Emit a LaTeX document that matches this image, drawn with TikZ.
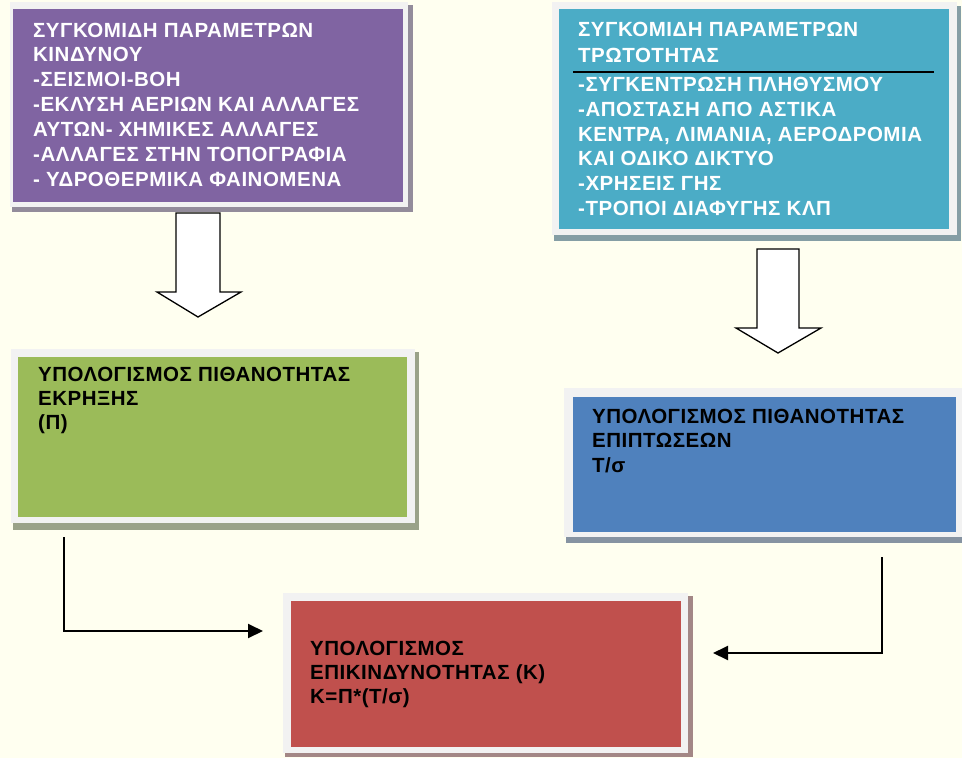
\documentclass[tikz,border=0pt]{standalone}
\usepackage{fontspec}
\setmainfont{Liberation Sans}
\usetikzlibrary{arrows.meta}

\definecolor{bgc}{RGB}{255,255,240}
\definecolor{framec}{RGB}{242,242,242}
\definecolor{purplec}{RGB}{128,100,162}
\definecolor{tealc}{RGB}{75,172,198}
\definecolor{greenc}{RGB}{155,187,89}
\definecolor{bluec}{RGB}{79,129,189}
\definecolor{redc}{RGB}{192,80,77}

\tikzset{
  panel/.style={fill=#1, draw=none, anchor=north west, inner sep=0pt},
  framebox/.style={fill=framec},
  shade/.style={fill=#1!30!gray!85},
  % text blocks are placed by the baseline of their last line
  boxtext/.style={anchor=base west, align=left, inner sep=0pt,
    font=\fontsize{20.5bp}{#1}\selectfont\bfseries\addfontfeature{LetterSpace=2.5}},
  boxtext/.default=24.8bp,
  conn/.style={draw=black, line width=2bp, -{Triangle[length=15bp,width=14bp]}},
  blockarrow/.style={draw=black, fill=white, line width=1.3bp, line join=miter},
}

\begin{document}
\begin{tikzpicture}[x=1bp, y=-1bp]
  \fill[bgc] (0,0) rectangle (962,758);
  \useasboundingbox (0,0) rectangle (962,758);

  % hazard parameters panel
  \fill[shade=purplec] (12,5) rectangle (413,212);
  \fill[framebox] (10,2) rectangle (408,207);
  \node[panel=purplec, minimum width=390bp, minimum height=193bp] (hazard) at (13,9) {};
  \node[boxtext, text=white] (hazardtxt) at (33,186)
    {ΣΥΓΚΟΜΙΔΗ ΠΑΡΑΜΕΤΡΩΝ\\ΚΙΝΔΥΝΟΥ\\-ΣΕΙΣΜΟΙ-ΒΟΗ\\-ΕΚΛΥΣΗ ΑΕΡΙΩΝ ΚΑΙ ΑΛΛΑΓΕΣ\\ΑΥΤΩΝ- ΧΗΜΙΚΕΣ ΑΛΛΑΓΕΣ\\-ΑΛΛΑΓΕΣ ΣΤΗΝ ΤΟΠΟΓΡΑΦΙΑ\\- ΥΔΡΟΘΕΡΜΙΚΑ ΦΑΙΝΟΜΕΝΑ};

  % vulnerability parameters panel
  \fill[shade=tealc] (554,6) rectangle (961,241);
  \fill[framebox] (552,2) rectangle (957,235);
  \node[panel=tealc, minimum width=390bp, minimum height=220bp] (vuln) at (559,9) {};
  \node[boxtext=26bp, text=white] (vulntitle) at (578,63)
    {ΣΥΓΚΟΜΙΔΗ ΠΑΡΑΜΕΤΡΩΝ\\ΤΡΩΤΟΤΗΤΑΣ};
  \draw[line width=2bp] (573,72) -- (934,72);
  \node[boxtext=24.6bp, text=white] (vulntxt) at (578,215)
    {-ΣΥΓΚΕΝΤΡΩΣΗ ΠΛΗΘΥΣΜΟΥ\\-ΑΠΟΣΤΑΣΗ ΑΠΟ ΑΣΤΙΚΑ\\ΚΕΝΤΡΑ, ΛΙΜΑΝΙΑ, ΑΕΡΟΔΡΟΜΙΑ\\ΚΑΙ ΟΔΙΚΟ ΔΙΚΤΥΟ\\-ΧΡΗΣΕΙΣ ΓΗΣ\\-ΤΡΟΠΟΙ ΔΙΑΦΥΓΗΣ ΚΛΠ};

  % eruption probability panel
  \fill[shade=greenc] (13,352) rectangle (419,530);
  \fill[framebox] (11,349) rectangle (415,523);
  \node[panel=greenc, minimum width=389bp, minimum height=160bp] (erupt) at (18,357) {};
  \node[boxtext=24bp] (erupttxt) at (38,429)
    {ΥΠΟΛΟΓΙΣΜΟΣ ΠΙΘΑΝΟΤΗΤΑΣ\\ΕΚΡΗΞΗΣ\\(Π)};

  % impact probability panel
  \fill[shade=bluec] (566,391) rectangle (970,543);
  \fill[framebox] (564,388) rectangle (966,537);
  \node[panel=bluec, minimum width=383bp, minimum height=135bp] (impact) at (573,397) {};
  \node[boxtext=24.5bp] (impacttxt) at (592,472)
    {ΥΠΟΛΟΓΙΣΜΟΣ ΠΙΘΑΝΟΤΗΤΑΣ\\ΕΠΙΠΤΩΣΕΩΝ\\Τ/σ};

  % risk panel
  \fill[shade=redc] (285,596) rectangle (693,757);
  \fill[framebox] (283,593) rectangle (688,753);
  \node[panel=redc, minimum width=390bp, minimum height=146bp] (risk) at (291,601) {};
  \node[boxtext=24bp] (risktxt) at (310,703)
    {ΥΠΟΛΟΓΙΣΜΟΣ\\ΕΠΙΚΙΝΔΥΝΟΤΗΤΑΣ (Κ)\\Κ=Π*(Τ/σ)};

  % block arrows between the upper and middle panels
  \draw[blockarrow] (176,213) -- (220,213) -- (220,292) -- (241,292) -- (198,317)
    -- (157,292) -- (176,292) -- cycle;
  \draw[blockarrow] (757,249) -- (799,249) -- (799,328) -- (821,328) -- (778,353)
    -- (736,328) -- (757,328) -- cycle;

  % elbow connectors into the risk panel
  \coordinate (eruptout) at (64,537);
  \coordinate (riskinL) at (263,631);
  \coordinate (impactout) at (882,557);
  \coordinate (riskinR) at (713,653);
  \draw[conn] (eruptout) |- (riskinL);
  \draw[conn] (impactout) |- (riskinR);
\end{tikzpicture}
\end{document}
